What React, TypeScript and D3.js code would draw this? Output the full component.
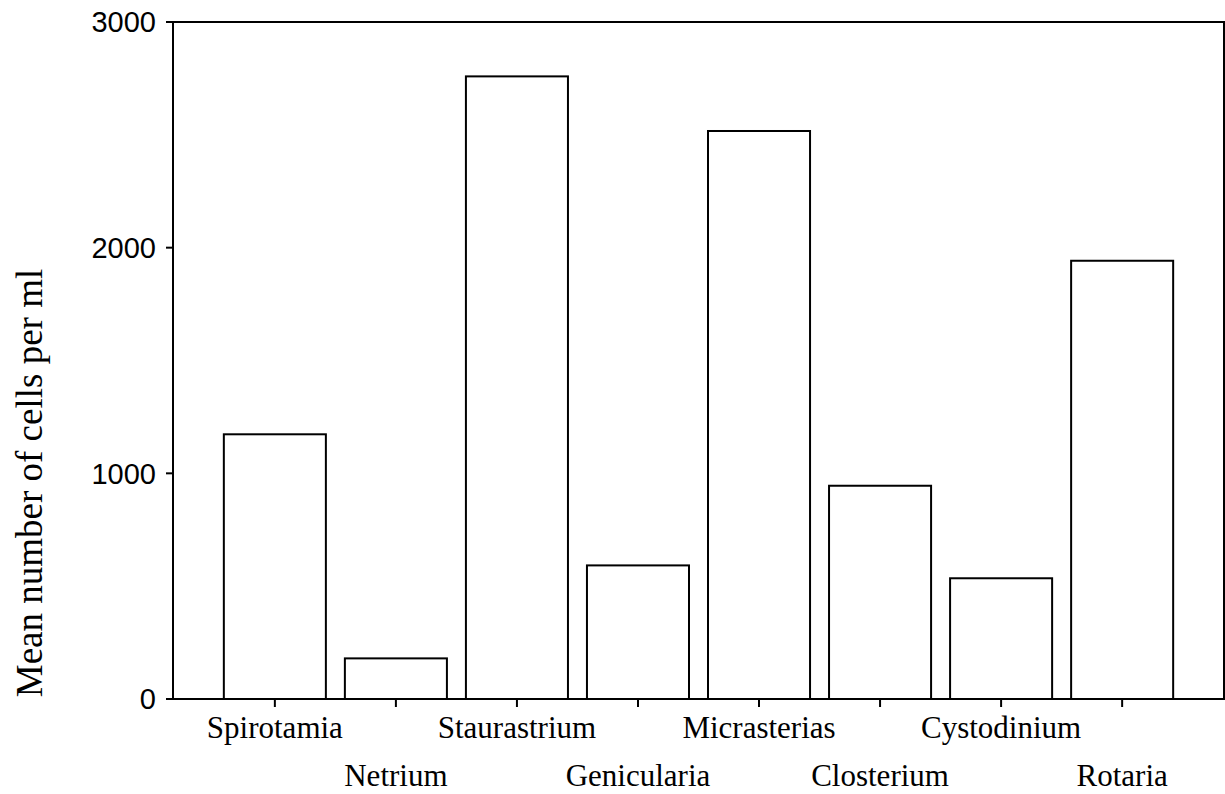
import React from 'react';
import { scaleBand, scaleLinear } from 'd3';

const categories = [
  'Spirotamia',
  'Netrium',
  'Staurastrium',
  'Genicularia',
  'Micrasterias',
  'Closterium',
  'Cystodinium',
  'Rotaria',
];
const cellsPerMl = [1173, 180, 2759, 592, 2517, 945, 535, 1942];
const yTicks = [0, 1000, 2000, 3000];

const W = 1225;
const H = 794;
const left = 173;
const right = 1224;
const top = 22;
const bottom = 699;

const App: React.FC = () => {
  const x = scaleBand<string>()
    .domain(categories)
    .range([left, right])
    .paddingInner(0.157)
    .paddingOuter(0.42);
  const y = scaleLinear().domain([0, 3000]).range([bottom, top]);

  return (
    <svg
      width={W}
      height={H}
      style={{ position: 'absolute', left: 0, top: 0 }}
    >
      <rect x={0} y={0} width={W} height={H} fill="#fff" />
      {/* bars */}
      {categories.map((c, i) => (
        <rect
          key={c}
          x={x(c)}
          y={y(cellsPerMl[i])}
          width={x.bandwidth()}
          height={y(0) - y(cellsPerMl[i])}
          fill="#fff"
          stroke="#000"
          strokeWidth={2}
        />
      ))}
      {/* frame */}
      <rect
        x={left}
        y={top}
        width={right - left}
        height={bottom - top}
        fill="none"
        stroke="#000"
        strokeWidth={2}
      />
      {/* y axis ticks */}
      {yTicks.map(t => (
        <g key={t}>
          <line x1={left - 7} x2={left} y1={y(t)} y2={y(t)} stroke="#000" strokeWidth={2} />
          <text
            x={left - 17}
            y={y(t)}
            dy="0.36em"
            textAnchor="end"
            fontFamily="'Liberation Sans', Arial, sans-serif"
            fontSize={29}
          >
            {t}
          </text>
        </g>
      ))}
      {/* x axis ticks and labels, staggered on two rows */}
      {categories.map((c, i) => {
        const cx = (x(c) as number) + x.bandwidth() / 2;
        return (
          <g key={c}>
            <line x1={cx} x2={cx} y1={bottom} y2={bottom + 8} stroke="#000" strokeWidth={2} />
            <text
              x={cx}
              y={i % 2 === 0 ? 738 : 786}
              textAnchor="middle"
              fontFamily="'Liberation Serif', 'Times New Roman', serif"
              fontSize={31}
            >
              {c}
            </text>
          </g>
        );
      })}
      <text
        transform="translate(42, 483) rotate(-90)"
        textAnchor="middle"
        fontFamily="'Liberation Serif', 'Times New Roman', serif"
        fontSize={37}
      >
        Mean number of cells per ml
      </text>
    </svg>
  );
};

export default App;
